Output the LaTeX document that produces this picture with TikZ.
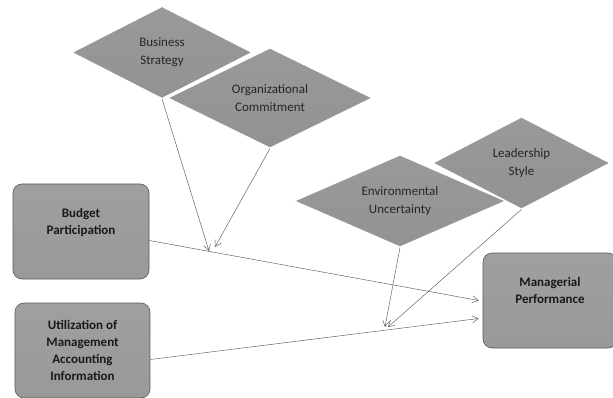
\documentclass[tikz,border=0pt]{standalone}
\usepackage{fontspec}
\setmainfont{Carlito}
\usetikzlibrary{shapes.geometric,arrows.meta}
\begin{document}
\begin{tikzpicture}[x=1pt,y=-1pt,
  dia/.style={diamond, draw=white, line width=0.8pt, top color=gray!80, bottom color=gray!100!black!85,
    shading angle=0, inner sep=0pt},
  dtext/.style={align=center, inner sep=0pt, font=\fontsize{13}{18}\selectfont, text=black!85},
  rbox/.style={rectangle, rounded corners=9pt, draw=black!65, line width=0.6pt, top color=gray!75, bottom color=gray!100!black!80,
    inner sep=0pt, align=center, font=\fontsize{13}{17}\selectfont\bfseries, text=black!90},
  conn/.style={draw=black!65, line width=0.45pt, -{Straight Barb[length=6pt,width=7pt]}}]
\useasboundingbox (0,0) rectangle (613,398);
% diamonds
\node[dia, minimum width=180pt, minimum height=92pt] (bs) at (162,52.5) {};
\node[dtext] (bst) at (bs.center) {Business\\Strategy};
\node[dia, minimum width=204pt, minimum height=100pt] (oc) at (270,98) {};
\node[dtext] (oct) at (oc.center) {Organizational\\Commitment};
\node[dia, minimum width=211pt, minimum height=92pt] (eu) at (400,201) {};
\node[dtext] (eut) at (eu.center) {Environmental\\Uncertainty};
\node[dia, minimum width=177pt, minimum height=92pt] (ls) at (521.5,163) {};
\node[dtext] (lst) at (ls.center) {Leadership\\Style};
% boxes
\node[rbox, minimum width=136pt, minimum height=95pt] (bp) at (81,231.5) {Budget\\Participation\\[4pt]};
\node[rbox, minimum width=135pt, minimum height=95pt] (um) at (82.5,350.5) {Utilization of\\Management\\Accounting\\Information};
\node[rbox, minimum width=134pt, minimum height=95pt] (mp) at (550,300.5) {Managerial\\Performance\\[4pt]};
% connector ends
\coordinate (t1) at (209,251);
\coordinate (t2) at (215,247);
\coordinate (t3) at (385,327);
\coordinate (t4) at (388,327);
% connectors
\draw[conn] ([yshift=-9pt]bp.east) -- ([xshift=-4pt]mp.west);
\draw[conn] ([yshift=-9pt]um.east) -- ([xshift=-4pt,yshift=-18pt]mp.west);
\draw[conn] (bs.south) -- (t1);
\draw[conn] (oc.south) -- (t2);
\draw[conn] (eu.south) -- (t3);
\draw[conn] (ls.south) -- (t4);
\end{tikzpicture}
\end{document}
